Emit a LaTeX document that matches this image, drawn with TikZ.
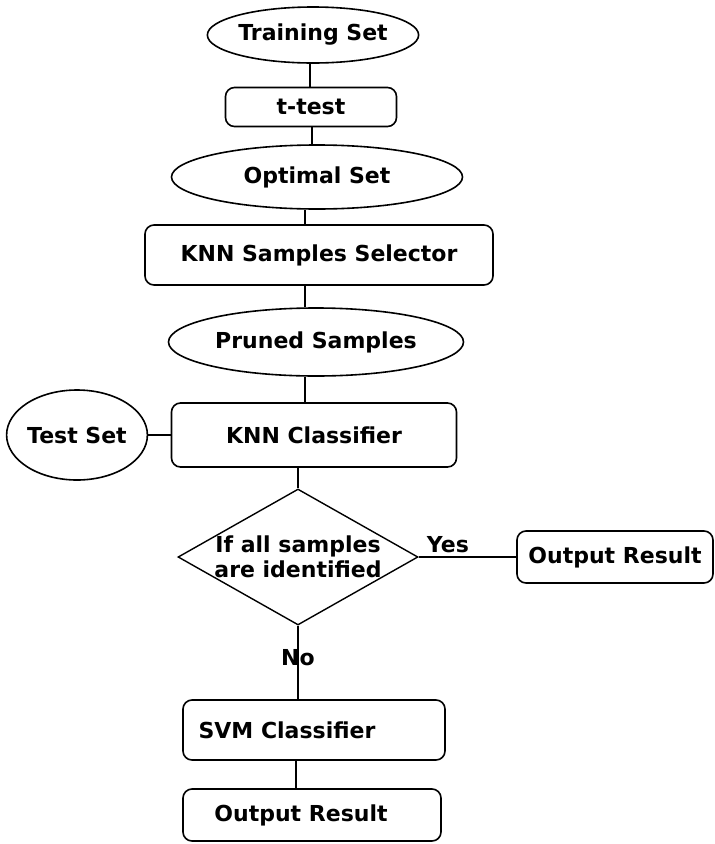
\documentclass[tikz,border=0pt]{standalone}
\usepackage{fontspec}
\setmainfont{DejaVu Sans}
\usetikzlibrary{shapes.geometric}
\begin{document}
\begin{tikzpicture}[x=1pt,y=-1pt,
  every node/.style={font=\bfseries\fontsize{22}{25}\selectfont, inner sep=0pt},
  oval/.style={draw, ellipse, line width=1.6pt},
  procbox/.style={draw, rectangle, rounded corners=9pt, line width=1.6pt},
  decision/.style={draw, diamond, line width=1.4pt},
  link/.style={line width=1.4pt}]
\useasboundingbox (0,0) rectangle (715,844);

% main column
\node[oval, minimum width=207pt, minimum height=56pt] (train) at (313,35) {Training Set};
\node[procbox, minimum width=171pt, minimum height=39pt] (ttest) at (311,107) {t-test};
\node[oval, minimum width=291pt, minimum height=64pt] (opt) at (317,177) {Optimal Set};
\node[procbox, minimum width=348pt, minimum height=60pt] (sel) at (319,255) {KNN Samples Selector};
\node[oval, minimum width=295pt, minimum height=68pt] (pruned) at (316,342) {Pruned Samples};
\node[procbox, minimum width=285pt, minimum height=64pt] (knn) at (314,435) {KNN Classifier};
\node[oval, minimum width=130pt, minimum height=90pt] (test) at (77,435) {Test Set};

% decision and outcomes
\node[decision, minimum width=240pt, minimum height=136pt,
      label={[align=center]center:If all samples\\are identified}] (dec) at (298,557) {};
\node[procbox, minimum width=196pt, minimum height=52pt] (outR) at (615,557) {Output Result};
\node[procbox, minimum width=262pt, minimum height=60pt,
      label={[xshift=-27pt]center:SVM Classifier}] (svm) at (314,730) {};
\node[procbox, minimum width=258pt, minimum height=52pt,
      label={[xshift=-11pt]center:Output Result}] (outB) at (312,815) {};

% connectors
\draw[link] (train.south -| 310,0) -- (ttest.north -| 310,0);
\draw[link] (ttest.south -| 312,0) -- (opt.north -| 312,0);
\draw[link] (opt.south -| 305,0) -- (sel.north -| 305,0);
\draw[link] (sel.south -| 305,0) -- (pruned.north -| 305,0);
\draw[link] (pruned.south -| 305,0) -- (knn.north -| 305,0);
\draw[link] (test.east) -- (knn.west);
\draw[link] (knn.south -| dec.north) -- (dec.north);
\draw[link] (dec.east) -- node[pos=0.3, above=3pt] {Yes} (outR.west);
\draw[link] (dec.south) -- node[pos=0.43] {No} (svm.north -| dec.south);
\draw[link] (svm.south -| 296,0) -- (outB.north -| 296,0);
\end{tikzpicture}
\end{document}
